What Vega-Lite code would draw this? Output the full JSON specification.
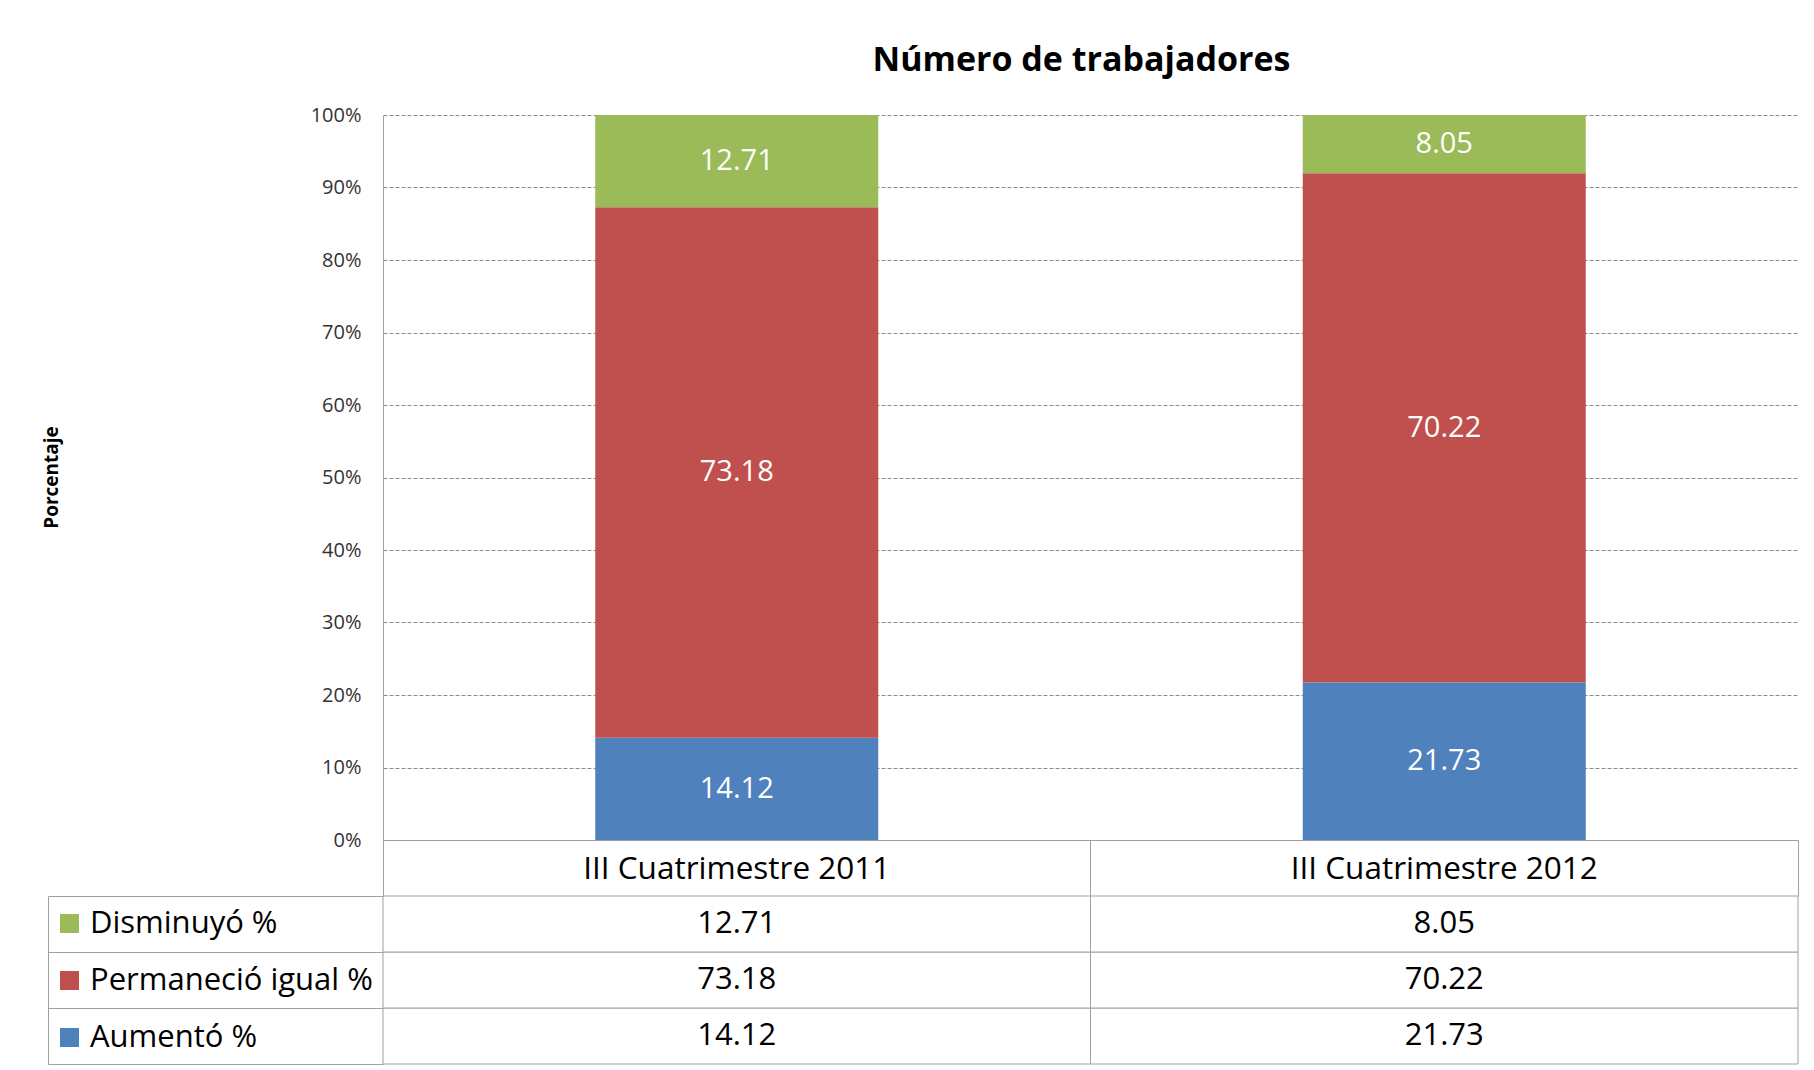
{
  "$schema": "https://vega.github.io/schema/vega-lite/v6.json",
  "background": "white",
  "padding": {"left": 42, "top": 44, "right": 0, "bottom": 0},
  "bounds": "flush",
  "spacing": 56,
  "datasets": {
    "barras": [
      {"periodo": "III Cuatrimestre 2011", "serie": "Aumentó %", "valor": 14.12, "orden": 1},
      {"periodo": "III Cuatrimestre 2011", "serie": "Permaneció igual %", "valor": 73.18, "orden": 2},
      {"periodo": "III Cuatrimestre 2011", "serie": "Disminuyó %", "valor": 12.71, "orden": 3},
      {"periodo": "III Cuatrimestre 2012", "serie": "Aumentó %", "valor": 21.73, "orden": 1},
      {"periodo": "III Cuatrimestre 2012", "serie": "Permaneció igual %", "valor": 70.22, "orden": 2},
      {"periodo": "III Cuatrimestre 2012", "serie": "Disminuyó %", "valor": 8.05, "orden": 3}
    ]
  },
  "config": {
    "font": "Open Sans",
    "view": {"stroke": null}
  },
  "vconcat": [
    {
      "width": 1415,
      "height": 725,
      "title": {
        "text": "Número de trabajadores",
        "fontSize": 34,
        "font": "Open Sans",
        "fontWeight": "bold",
        "color": "black",
        "anchor": "middle",
        "baseline": "alphabetic",
        "offset": 0,
        "dx": -9
      },
      "data": {"name": "barras"},
      "encoding": {
        "x": {
          "field": "periodo",
          "type": "nominal",
          "scale": {"paddingInner": 0.6, "paddingOuter": 0.3},
          "axis": {"labels": false, "ticks": false, "title": null, "domainColor": "#A0A0A0", "domainWidth": 1, "minExtent": 0, "maxExtent": 0}
        }
      },
      "layer": [
        {
          "mark": {"type": "bar"},
          "encoding": {
            "y": {
              "field": "valor",
              "type": "quantitative",
              "stack": "normalize",
              "scale": {"domain": [0, 1]},
              "axis": {
                "values": [0, 0.1, 0.2, 0.3, 0.4, 0.5, 0.6, 0.7, 0.8, 0.9, 1],
                "format": ".0%",
                "labelFontSize": 20,
                "labelFont": "Open Sans",
                "labelColor": "#333333",
                "labelPadding": 22,
                "ticks": false,
                "domainColor": "#A0A0A0",
                "grid": true,
                "gridDash": [4, 2],
                "gridColor": "#8C8C8C",
                "gridWidth": 1,
                "title": "Porcentaje",
                "titleFont": "Open Sans",
                "titleFontSize": 19,
                "titleFontWeight": "bold",
                "titleColor": "black",
                "titleX": -322,
                "titleY": 362
              }
            },
            "color": {
              "field": "serie",
              "type": "nominal",
              "scale": {
                "domain": ["Disminuyó %", "Permaneció igual %", "Aumentó %"],
                "range": ["#9BBB59", "#C0504D", "#4F81BD"]
              },
              "legend": {
                "orient": "none",
                "legendX": -329,
                "legendY": 793,
                "title": null,
                "symbolType": "square",
                "symbolSize": 361,
                "symbolStrokeWidth": 0,
                "symbolOpacity": 1,
                "labelFontSize": 31,
                "labelFont": "Open Sans",
                "labelColor": "black",
                "labelLimit": 0,
                "labelOffset": 5,
                "rowPadding": 25,
                "padding": 0
              }
            },
            "order": {"field": "orden"}
          }
        },
        {
          "mark": {"type": "text", "color": "white", "fontSize": 29, "font": "Open Sans"},
          "encoding": {
            "y": {"field": "valor", "type": "quantitative", "stack": "normalize", "bandPosition": 0.5},
            "detail": {"field": "serie"},
            "order": {"field": "orden"},
            "text": {"field": "valor", "type": "quantitative", "format": ".2f"}
          }
        }
      ]
    },
    {
      "width": 1415,
      "height": 168,
      "data": {"name": "barras"},
      "encoding": {
        "x": {
          "field": "periodo",
          "type": "nominal",
          "scale": {"paddingInner": 0, "paddingOuter": 0},
          "axis": {
            "orient": "top",
            "title": null,
            "labelFontSize": 31.5,
            "labelFont": "Open Sans",
            "labelColor": "black",
            "labelLimit": 0,
            "labelAngle": 0,
            "labelPadding": -38,
            "labelBaseline": "alphabetic",
            "ticks": true,
            "tickSize": 56,
            "tickColor": "#A0A0A0",
            "bandPosition": 1,
            "tickExtra": true,
            "domain": false
          }
        },
        "y": {
          "field": "serie",
          "type": "nominal",
          "sort": ["Disminuyó %", "Permaneció igual %", "Aumentó %"],
          "scale": {"paddingInner": 0, "paddingOuter": 0},
          "axis": {
            "title": null,
            "labels": false,
            "offset": 335,
            "minExtent": 0,
            "ticks": true,
            "tickSize": -335,
            "bandPosition": 1,
            "tickExtra": true,
            "tickColor": "#A0A0A0",
            "domainColor": "#A0A0A0"
          }
        }
      },
      "layer": [
        {"mark": {"type": "rect", "fill": "white", "stroke": "#A0A0A0", "strokeWidth": 1}},
        {
          "mark": {"type": "text", "fontSize": 31, "font": "Open Sans", "color": "black"},
          "encoding": {"text": {"field": "valor", "type": "quantitative", "format": ".2f"}}
        }
      ]
    }
  ]
}
